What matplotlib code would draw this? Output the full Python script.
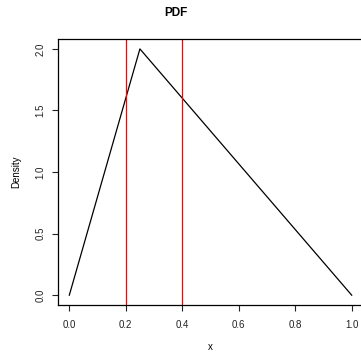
import matplotlib.pyplot as plt

# triangular pdf, a=0, c=0.25, b=1
x = [0.0, 0.25, 1.0]
density = [0.0, 2.0, 0.0]
vlines = [0.2, 0.4]
xticks = [0.0, 0.2, 0.4, 0.6, 0.8, 1.0]
yticks = [0.0, 0.5, 1.0, 1.5, 2.0]

plt.rcParams['font.family'] = ['Liberation Sans', 'DejaVu Sans']

fig = plt.figure(figsize=(3.61, 3.55), dpi=100)
ax = fig.add_axes([0.1607, 0.1408, 0.8448, 0.7492])

ax.plot(x, density, color='black', linewidth=0.9)
for v in vlines:
    ax.axvline(v, color='red', linewidth=0.9)

ax.set_xlim(-0.04, 1.04)
ax.set_ylim(-0.08, 2.08)
ax.set_xticks(xticks)
ax.set_xticklabels(['%.1f' % t for t in xticks])
ax.set_yticks(yticks)
ax.set_yticklabels(['%.1f' % t for t in yticks], rotation=90, va='center')
ax.tick_params(labelsize=7, length=4, width=0.8, pad=5, colors='#222222')
ax.tick_params(axis='x', pad=7)

for s in ax.spines.values():
    s.set_linewidth(0.9)

# x label placed in figure coords so it stays inside the canvas
fig.text(0.582, 0.022, 'x', ha='center', va='center', fontsize=7)
ax.set_ylabel('Density', fontsize=7, labelpad=10)
fig.text(0.4875, 0.962, 'PDF', ha='center', va='center', fontsize=8.5, fontweight='bold')

fig.savefig('out.png', dpi=100)
